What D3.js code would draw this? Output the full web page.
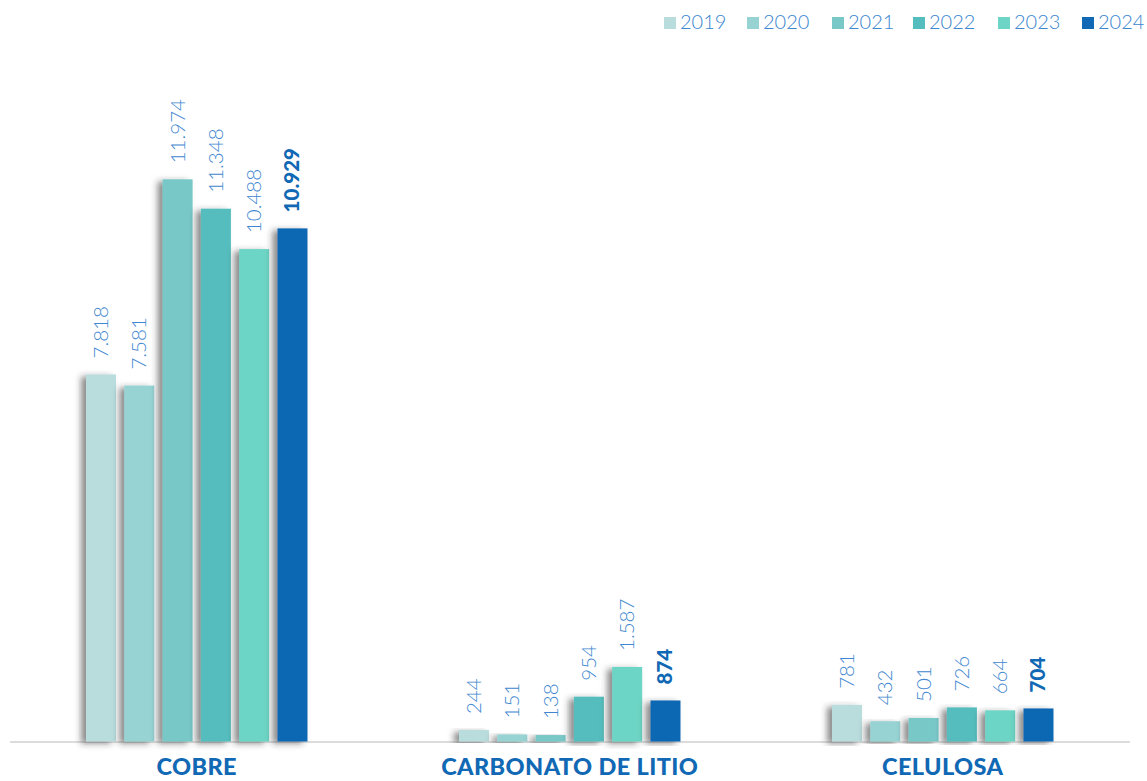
<!DOCTYPE html>
<html>
<head>
<meta charset="utf-8">
<script src="https://cdn.jsdelivr.net/npm/d3@7"></script>
<style>
  html, body { margin: 0; padding: 0; background: #fff; }
  svg { display: block; }
</style>
</head>
<body>
<svg id="chart" width="1147" height="781"></svg>
<script>
// ---- data ----
const categories = ["COBRE", "CARBONATO DE LITIO", "CELULOSA"];
const years = ["2019", "2020", "2021", "2022", "2023", "2024"];
const v2019 = [7818, 244, 781];
const v2020 = [7581, 151, 432];
const v2021 = [11974, 138, 501];
const v2022 = [11348, 954, 726];
const v2023 = [10488, 1587, 664];
const v2024 = [10929, 874, 704];
const seriesValues = [v2019, v2020, v2021, v2022, v2023, v2024];
const colors = ["#b9dcdd", "#98d3d4", "#79c8c8", "#55bdbd", "#6dd5c5", "#1168b4"];

// ---- layout ----
const svg = d3.select("#chart");
const baseY = 741.5;
const groupW = 221.5;
const x0 = d3.scaleBand().domain(categories).range([86, 86 + 3 * 373]).paddingInner(0).paddingOuter(0);
const x1 = d3.scaleBand().domain(years).range([0, groupW]).paddingInner(0.2167).paddingOuter(0);
const y = d3.scaleLinear().domain([0, 12000]).range([baseY, baseY - 563.4]);

const fmt = d3.formatLocale({decimal: ",", thousands: ".", grouping: [3], currency: ["", ""]}).format(",d");

// shadow filter
const defs = svg.append("defs");
const f = defs.append("filter").attr("id", "shadow").attr("x", "-50%").attr("y", "-10%").attr("width", "200%").attr("height", "120%");
f.append("feDropShadow").attr("dx", -5).attr("dy", 2).attr("stdDeviation", 3)
  .attr("flood-color", "#333").attr("flood-opacity", 0.55);

// axis line
svg.append("line").attr("x1", 10).attr("x2", 1130).attr("y1", baseY + 0.5).attr("y2", baseY + 0.5)
  .attr("stroke", "#dcdcdc").attr("stroke-width", 2);

const groups = svg.selectAll("g.grp").data(categories).join("g")
  .attr("class", "grp")
  .attr("transform", c => `translate(${x0(c)},0)`);

const bars = groups.selectAll("g.bar").data((c, ci) => years.map((yr, yi) => ({yr, yi, v: seriesValues[yi][ci]})))
  .join("g").attr("class", "bar");

bars.append("rect")
  .attr("x", d => x1(d.yr))
  .attr("width", x1.bandwidth())
  .attr("y", d => y(d.v))
  .attr("height", d => baseY - y(d.v))
  .attr("fill", d => colors[d.yi])
  .attr("filter", "url(#shadow)");

bars.append("text")
  .attr("transform", d => `translate(${x1(d.yr) + x1.bandwidth() / 2 + 7},${y(d.v) - 16}) rotate(-90)`)
  .attr("font-family", "Lato, 'Open Sans', sans-serif")
  .attr("font-size", 20.5)
  .attr("font-weight", d => d.yi === 5 ? 900 : 300)
  .attr("fill", d => d.yi === 5 ? "#1168b4" : "#3f87d0")
  .attr("text-anchor", "start")
  .text(d => fmt(d.v));

// category labels
svg.selectAll("text.cat").data(categories).join("text")
  .attr("class", "cat")
  .attr("x", c => x0(c) + groupW / 2)
  .attr("y", 775)
  .attr("text-anchor", "middle")
  .attr("font-family", "Lato, 'Open Sans', sans-serif")
  .attr("font-weight", 900)
  .attr("font-size", 23.5)
  .attr("letter-spacing", 0.4)
  .attr("fill", "#1168b4")
  .text(c => c);

// legend
const legX = [664, 747, 832, 913, 998, 1082];
const leg = svg.selectAll("g.leg").data(years).join("g").attr("class", "leg")
  .attr("transform", (d, i) => `translate(${legX[i]},0)`);
leg.append("rect").attr("x", 0).attr("y", 17).attr("width", 12).attr("height", 12)
  .attr("fill", (d, i) => colors[i]);
leg.append("text").attr("x", 16).attr("y", 29)
  .attr("font-family", "Lato, 'Open Sans', sans-serif")
  .attr("font-weight", 300)
  .attr("font-size", 20)
  .attr("fill", "#3a86cf")
  .text(d => d);
</script>
</body>
</html>
